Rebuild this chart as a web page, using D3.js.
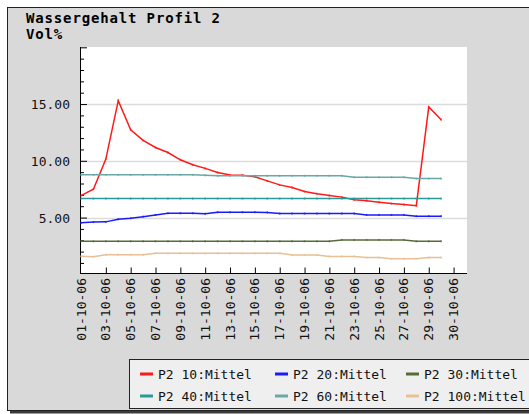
<!DOCTYPE html>
<html>
<meta charset="utf-8">
<head>
<title>Wassergehalt Profil 2</title>
<script src="https://cdnjs.cloudflare.com/ajax/libs/d3/7.8.5/d3.min.js"></script>
<style>
    body { margin: 0; background: #fff; }
    text { font-family: "DejaVu Sans Mono", monospace; }
</style>
</head>

<body>
<script>

// Day labels as the chart prints them (29-10-06 appears twice, DST change)
const dates = [
    "01-10-06", "02-10-06", "03-10-06", "04-10-06", "05-10-06", "06-10-06", "07-10-06", "08-10-06",
    "09-10-06", "10-10-06", "11-10-06", "12-10-06", "13-10-06", "14-10-06", "15-10-06", "16-10-06",
    "17-10-06", "18-10-06", "19-10-06", "20-10-06", "21-10-06", "22-10-06", "23-10-06", "24-10-06",
    "25-10-06", "26-10-06", "27-10-06", "28-10-06", "29-10-06", "29-10-06", "30-10-06"
];

const seriesNames = ["P2 10:Mittel", "P2 20:Mittel", "P2 30:Mittel", "P2 40:Mittel", "P2 60:Mittel", "P2 100:Mittel"];
const seriesColours = ["#ff1a1a", "#1a1aff", "#566b3a", "#2a9a98", "#6aa8a8", "#e8c096"];

const p2_10 = [6.93, 7.5, 10.15, 15.3, 12.74, 11.8, 11.17, 10.73, 10.09, 9.65,
    9.33, 8.97, 8.75, 8.73, 8.6, 8.23, 7.88, 7.64, 7.29, 7.09,
    6.94, 6.8, 6.56, 6.47, 6.35, 6.23, 6.14, 6.05, 14.74, 13.62];
const p2_20 = [4.55, 4.6, 4.62, 4.85, 4.94, 5.08, 5.23, 5.38, 5.38, 5.38,
    5.33, 5.47, 5.47, 5.47, 5.47, 5.45, 5.35, 5.35, 5.35, 5.35,
    5.35, 5.35, 5.35, 5.23, 5.23, 5.23, 5.23, 5.12, 5.12, 5.12];
const p2_30 = [2.91, 2.91, 2.91, 2.91, 2.91, 2.91, 2.91, 2.91, 2.91, 2.91,
    2.91, 2.91, 2.91, 2.91, 2.91, 2.91, 2.91, 2.91, 2.91, 2.91,
    2.91, 3.03, 3.03, 3.03, 3.03, 3.03, 3.03, 2.91, 2.91, 2.91];
const p2_40 = [6.67, 6.67, 6.67, 6.67, 6.67, 6.67, 6.67, 6.67, 6.67, 6.67,
    6.67, 6.67, 6.67, 6.67, 6.67, 6.67, 6.67, 6.67, 6.67, 6.67,
    6.67, 6.67, 6.67, 6.67, 6.67, 6.67, 6.67, 6.67, 6.67, 6.67];
const p2_60 = [8.76, 8.76, 8.76, 8.76, 8.76, 8.76, 8.76, 8.76, 8.76, 8.76,
    8.72, 8.68, 8.68, 8.68, 8.68, 8.68, 8.68, 8.68, 8.68, 8.68,
    8.68, 8.68, 8.55, 8.55, 8.55, 8.55, 8.55, 8.43, 8.43, 8.43];
const p2_100 = [1.58, 1.55, 1.72, 1.72, 1.72, 1.72, 1.85, 1.85, 1.85, 1.85,
    1.85, 1.85, 1.85, 1.85, 1.85, 1.85, 1.85, 1.7, 1.7, 1.7,
    1.57, 1.57, 1.57, 1.47, 1.47, 1.37, 1.37, 1.37, 1.47, 1.47];

const series = [p2_10, p2_20, p2_30, p2_40, p2_60, p2_100];

const yMajor = [5, 10, 15];

const width = 529,
    height = 414;

const plot = { left: 80, right: 467, top: 47, bottom: 273.5 };

const svg = d3.select("body")
    .append("svg")
    .attr("width", width)
    .attr("height", height);

// Outer frame with shadow
svg.append("rect")
    .attr("x", 10).attr("y", 10)
    .attr("width", 540).attr("height", 403.5)
    .attr("fill", "#3a3a3a");
svg.append("rect")
    .attr("x", 7.5).attr("y", 7.5)
    .attr("width", 540).attr("height", 403)
    .attr("fill", "#d9d9d9")
    .attr("stroke", "#222")
    .attr("stroke-width", 1);

// Plot area
svg.append("rect")
    .attr("x", plot.left).attr("y", plot.top)
    .attr("width", plot.right - plot.left)
    .attr("height", plot.bottom - plot.top)
    .attr("fill", "#fff");

const x = d3.scaleLinear()
    .domain([0, 31])
    .range([81, 466]);

const y = d3.scaleLinear()
    .domain([0, 20])
    .range([274.3, 47.3]);

// Grid lines at the labelled values
svg.selectAll(".grid")
    .data(yMajor)
    .enter()
    .append("line")
    .attr("class", "grid")
    .attr("x1", plot.left).attr("x2", plot.right)
    .attr("y1", d => Math.round(y(d)) + 0.5)
    .attr("y2", d => Math.round(y(d)) + 0.5)
    .attr("stroke", "#dcdcdc")
    .attr("stroke-width", 1.5);

// Y axis: minor ticks every 1, major every 5, drawn inside
const yAxis = d3.axisRight(y)
    .tickValues(d3.range(1, 21))
    .tickSize(4)
    .tickFormat("");
svg.append("g")
    .attr("transform", `translate(${plot.left},0)`)
    .call(yAxis)
    .call(g => g.select(".domain").remove())
    .call(g => g.selectAll(".tick line")
        .attr("stroke", "#000")
        .attr("x2", d => d % 5 === 0 ? 7 : 4));
svg.append("line")
    .attr("x1", plot.left + 0.5).attr("x2", plot.left + 0.5)
    .attr("y1", plot.top).attr("y2", plot.bottom)
    .attr("stroke", "#000");

svg.selectAll(".ylabel")
    .data(yMajor)
    .enter()
    .append("text")
    .attr("class", "ylabel")
    .attr("x", 70)
    .attr("y", d => y(d) + 5)
    .attr("text-anchor", "end")
    .attr("font-size", "13px")
    .attr("fill", "#111")
    .text(d => d3.format(".2f")(d));

// X axis: ticks and labels on every second day
const xTicks = d3.range(0, dates.length, 2);
const xAxis = d3.axisTop(x)
    .tickValues(xTicks.filter(i => i > 0))
    .tickSize(6)
    .tickFormat("");
svg.append("g")
    .attr("transform", `translate(0,${plot.bottom})`)
    .call(xAxis)
    .call(g => g.select(".domain").remove())
    .call(g => g.selectAll(".tick line").attr("stroke", "#000"));
svg.append("line")
    .attr("x1", plot.left).attr("x2", plot.right)
    .attr("y1", plot.bottom).attr("y2", plot.bottom)
    .attr("stroke", "#000");

svg.selectAll(".xlabel")
    .data(xTicks)
    .enter()
    .append("text")
    .attr("class", "xlabel")
    .attr("transform", i => `translate(${x(i) + 4.5},278) rotate(-90)`)
    .attr("text-anchor", "end")
    .attr("font-size", "13px")
    .attr("fill", "#111")
    .text(i => dates[i]);

// Series lines with tiny point markers
const line = d3.line()
    .x((d, i) => x(i))
    .y(d => y(d));

series.forEach((values, s) => {
    svg.append("path")
        .datum(values)
        .attr("d", line)
        .attr("fill", "none")
        .attr("stroke", seriesColours[s])
        .attr("stroke-width", 1.5);
    svg.selectAll(".pt" + s)
        .data(values)
        .enter()
        .append("rect")
        .attr("x", (d, i) => x(i) - 0.75)
        .attr("y", d => y(d) - 1)
        .attr("width", 1.5)
        .attr("height", 2)
        .attr("fill", seriesColours[s])
        .attr("fill-opacity", 0.8);
});

// Title
svg.append("text")
    .attr("x", 26)
    .attr("y", 23)
    .attr("font-size", "14px")
    .attr("font-weight", "bold")
    .attr("letter-spacing", "0.85px")
    .text("Wassergehalt Profil 2");
svg.append("text")
    .attr("x", 26)
    .attr("y", 39)
    .attr("font-size", "14px")
    .attr("font-weight", "bold")
    .attr("letter-spacing", "0.85px")
    .text("Vol%");

// Legend
svg.append("rect")
    .attr("x", 129.5).attr("y", 359.5)
    .attr("width", 420).attr("height", 49)
    .attr("fill", "#efefef")
    .attr("stroke", "#222");

const legendX = [140, 275, 406];
const legendY = [374, 396];

const legend = svg.selectAll(".legend")
    .data(seriesNames)
    .enter()
    .append("g")
    .attr("class", "legend")
    .attr("transform", (d, i) => `translate(${legendX[i % 3]},${legendY[Math.floor(i / 3)]})`);
legend.append("line")
    .attr("x1", 0).attr("x2", 13)
    .attr("stroke", (d, i) => seriesColours[i])
    .attr("stroke-width", 3);
legend.append("text")
    .attr("x", 18)
    .attr("y", 5)
    .attr("font-size", "13px")
    .attr("fill", "#111")
    .text(d => d);

</script>

</body>
</html>
